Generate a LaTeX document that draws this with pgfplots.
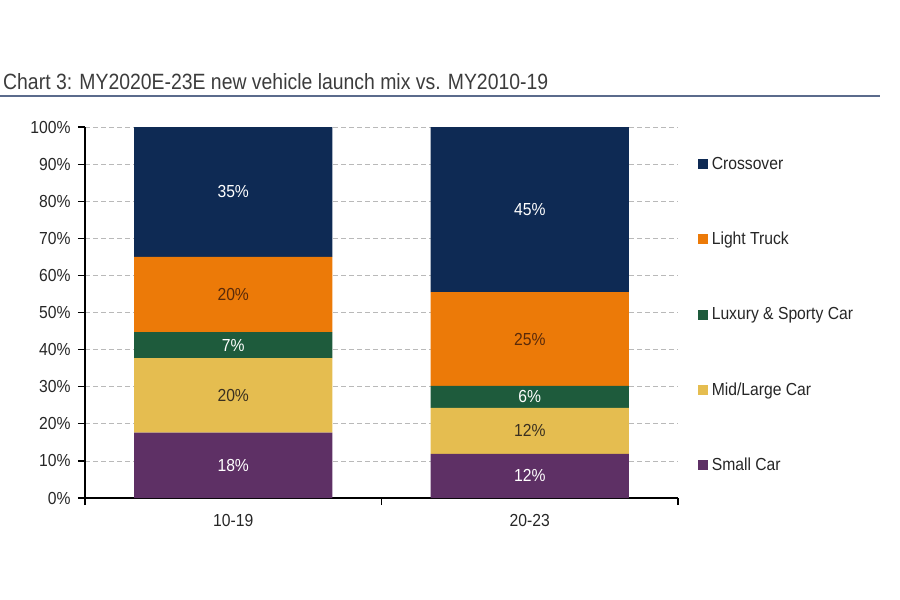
\documentclass[border=0pt]{standalone}
\usepackage{pgfplots}
\pgfplotsset{compat=1.18}
\usepackage{fontspec}
\setmainfont[FakeStretch=0.9]{Liberation Sans}
\definecolor{cNavy}{HTML}{0E2A54}
\definecolor{cOrange}{HTML}{EC7A08}
\definecolor{cGreen}{HTML}{1E5B3C}
\definecolor{cYellow}{HTML}{E5BD50}
\definecolor{cPurple}{HTML}{5E3065}
\definecolor{cLine}{HTML}{5B6B8C}
\definecolor{cText}{HTML}{262626}
\definecolor{cBrown}{HTML}{5A2A0A}
\definecolor{cDark}{HTML}{3A3020}
\begin{document}
\begin{tikzpicture}
\useasboundingbox (0,0) rectangle (900bp,-600bp);
\node[anchor=base west, inner sep=0, text=cText!90] at (3bp,-89.5bp) {\resizebox{545bp}{16bp}{Chart 3: MY2020E-23E new vehicle launch mix vs. MY2010-19}};
\draw[cLine, line width=2bp] (0,-95.5bp) -- (880bp,-95.5bp);
\begin{axis}[
  at={(85bp,-498bp)}, anchor=south west,
  scale only axis, width=593bp, height=371bp,
  xmin=-0.5, xmax=1.5, ymin=0, ymax=100,
  enlargelimits=false,
  ybar stacked, bar width=0.668,
  legend image code/.code={\fill[#1] (0bp,-5bp) rectangle (10bp,5bp);},
  axis lines=left, axis line style={-, black, line width=1.2bp},
  tick align=outside, major tick length=7bp,
  tick style={black, line width=1.2bp},
  xtick={-0.5,0.5,1.5}, xticklabels={},
  extra x ticks={0,1}, extra x tick labels={10-19,20-23},
  extra x tick style={major tick length=0pt, xticklabel style={yshift=-13bp}},
  ytick={0,10,...,100},
  yticklabel={\pgfmathprintnumber{\tick}\%},
  yticklabel style={xshift=-4bp},
  /pgf/number format/assume math mode=true,
  ticklabel style={font=\fontsize{17.5}{20}\selectfont, text=cText},
  ymajorgrids,
  major grid style={dash pattern=on 5bp off 3bp, color=gray!55, line width=0.8bp},
  point meta=explicit symbolic,
  nodes near coords,
  every node near coord/.append style={anchor=center, font=\fontsize{17.5}{20}\selectfont},
  reverse legend,
  legend cell align=left,
  legend style={at={(1.028,0.494)}, anchor=west, draw=none, fill=none, row sep=56.3bp, column sep=1.5bp,
    font=\fontsize{17.5}{20}\selectfont, text=cText, nodes={inner sep=2.5bp}},
]
\addplot[fill=cPurple, draw=none, every node near coord/.append style={text=white}] coordinates {(0,17.6) [18\%] (1,11.9) [12\%]};
\addlegendentry{Small Car}
\addplot[fill=cYellow, draw=none, every node near coord/.append style={text=cDark}] coordinates {(0,20.1) [20\%] (1,12.4) [12\%]};
\addlegendentry{Mid/Large Car}
\addplot[fill=cGreen, draw=none, every node near coord/.append style={text=white}] coordinates {(0,7.0) [7\%] (1,5.9) [6\%]};
\addlegendentry{Luxury \& Sporty Car}
\addplot[fill=cOrange, draw=none, every node near coord/.append style={text=cBrown}] coordinates {(0,20.3) [20\%] (1,25.3) [25\%]};
\addlegendentry{Light Truck}
\addplot[fill=cNavy, draw=none, every node near coord/.append style={text=white}] coordinates {(0,35.0) [35\%] (1,44.5) [45\%]};
\addlegendentry{Crossover}
\end{axis}
\end{tikzpicture}
\end{document}
